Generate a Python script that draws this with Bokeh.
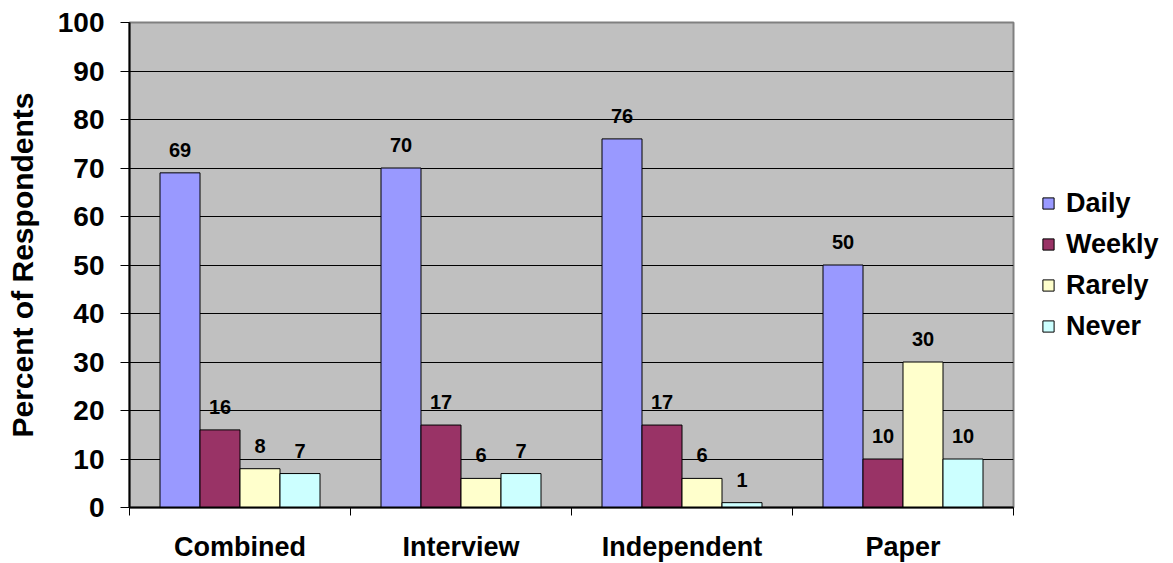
import numpy as np
from bokeh.plotting import figure
from bokeh.models import (Range1d, FixedTicker, Legend, LegendItem, ColumnDataSource)
from bokeh.core.properties import value
from bokeh.embed import file_html
from bokeh.resources import INLINE

# Survey frequency by mode of administration
modes = ["Combined", "Interview", "Independent", "Paper"]
series = ["Daily", "Weekly", "Rarely", "Never"]
daily = [69, 70, 76, 50]
weekly = [16, 17, 17, 10]
rarely = [8, 6, 6, 30]
never = [7, 7, 1, 10]
y_ticks = [0, 10, 20, 30, 40, 50, 60, 70, 80, 90, 100]

colors = ["#9999FF", "#993366", "#FFFFCC", "#CCFFFF"]
FONT = "Liberation Sans"

p = figure(frame_width=884, frame_height=485,
           min_border_left=129, min_border_right=160,
           min_border_top=22, min_border_bottom=10,
           x_range=Range1d(0, len(modes)), y_range=Range1d(0, 100),
           output_backend="svg", toolbar_location=None,
           background_fill_color="#C0C0C0")
p.outline_line_color = "#808080"
p.outline_line_width = 2
p.xgrid.visible = False
p.ygrid.ticker = FixedTicker(ticks=y_ticks[1:-1])
p.ygrid.grid_line_color = "black"
p.ygrid.grid_line_width = 1

bar_w = 40 / 221
offsets = [-1.5 * bar_w, -0.5 * bar_w, 0.5 * bar_w, 1.5 * bar_w]
centers = np.arange(len(modes)) + 0.5

items = []
for name, vals, col, off in zip(series, [daily, weekly, rarely, never], colors, offsets):
    src = ColumnDataSource(dict(x=centers + off, top=vals,
                                label=[str(v) for v in vals]))
    r = p.vbar(x="x", top="top", width=bar_w, source=src,
               fill_color=col, line_color="black", line_width=1)
    p.text(x="x", y="top", text="label", source=src,
           text_align="center", text_baseline="alphabetic", y_offset=-23,
           text_font=value(FONT), text_font_style="bold",
           text_font_size="20px", text_color="black")
    items.append(LegendItem(label=name, renderers=[r]))

# x axis: labels at group centres, tick marks at group boundaries
xa = p.xaxis[0]
xa.ticker = FixedTicker(ticks=list(centers), minor_ticks=list(range(len(modes) + 1)))
xa.major_label_overrides = {float(c): m for c, m in zip(centers, modes)}
xa.major_tick_line_color = None
xa.major_tick_out = 0
xa.major_tick_in = 0
xa.minor_tick_line_color = "black"
xa.minor_tick_line_width = 1
xa.minor_tick_out = 8
xa.minor_tick_in = 0
xa.axis_line_color = "black"
xa.axis_line_width = 2
xa.major_label_standoff = 16
xa.major_label_text_font = FONT
xa.major_label_text_font_style = "bold"
xa.major_label_text_font_size = "27px"
xa.major_label_text_color = "black"

ya = p.yaxis[0]
ya.ticker = FixedTicker(ticks=y_ticks)
ya.minor_tick_line_color = None
ya.major_tick_out = 9
ya.major_tick_in = 0
ya.major_tick_line_color = "black"
ya.major_tick_line_width = 1
ya.axis_line_color = "black"
ya.axis_line_width = 2
ya.major_label_standoff = 16
ya.major_label_text_font = FONT
ya.major_label_text_font_style = "bold"
ya.major_label_text_font_size = "28px"
ya.major_label_text_color = "black"
ya.axis_label = "Percent of Respondents"
ya.axis_label_standoff = 16
ya.axis_label_text_font = FONT
ya.axis_label_text_font_style = "bold"
ya.axis_label_text_font_size = "30px"
ya.axis_label_text_color = "black"

legend = Legend(items=items, location="center_left", padding=0, margin=28,
                glyph_width=14, glyph_height=14, label_standoff=11, spacing=10,
                label_text_font=FONT, label_text_font_style="bold",
                label_text_font_size="27px", label_text_color="black",
                border_line_color=None, background_fill_alpha=0)
p.add_layout(legend, "right")

open("out.html", "w").write(file_html(p, INLINE))
